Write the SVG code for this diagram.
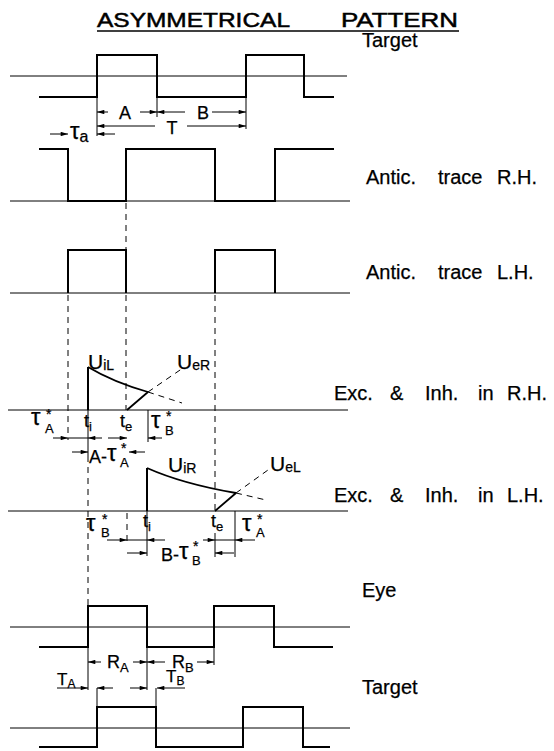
<svg xmlns="http://www.w3.org/2000/svg" width="554" height="751" viewBox="0 0 554 751">
<style>
text{font-family:"Liberation Sans",Arial,sans-serif;fill:#000;stroke:#000;stroke-width:0.25}
.lbl{font-size:20px}
.thin{stroke:#000;stroke-width:1;fill:none}
.wave{stroke:#000;stroke-width:2;fill:none}
.dash{stroke:#000;stroke-width:1;fill:none;stroke-dasharray:6 5}
.ar{stroke:#000;stroke-width:1;fill:none;marker-end:url(#ah)}
.sy{font-size:18px}
.tau{font-size:24px}
.st{font-size:14px}
.sb{font-size:13px}
</style>
<defs>
<marker id="ah" viewBox="0 0 10 6" refX="10" refY="3" markerWidth="8" markerHeight="4.4" markerUnits="userSpaceOnUse" orient="auto"><path d="M0,0 L10,3 L0,6 Z" fill="#000"/></marker>
</defs>
<rect width="554" height="751" fill="#fff"/>

<g id="title">
<text x="97" y="27" font-size="21" textLength="193" lengthAdjust="spacingAndGlyphs" style="stroke-width:0.5">ASYMMETRICAL</text>
<text x="341" y="27" font-size="21" textLength="117" lengthAdjust="spacingAndGlyphs" style="stroke-width:0.5">PATTERN</text>
<line x1="97" y1="31" x2="459" y2="31" stroke="#000" stroke-width="1.5"/>
</g>

<g id="target-top">
<line class="thin" x1="10" y1="76" x2="347" y2="76"/>
<path class="wave" d="M39,97 H97 V55 H157 V97 H246 V55 H304 V97 H334"/>
<text class="lbl" x="362" y="47">Target</text>
</g>

<g id="antic-rh">
<line class="thin" x1="10" y1="201" x2="350" y2="201"/>
<path class="wave" d="M39,149 H68 V201 H126 V149 H215 V201 H275 V149 H334"/>
<text class="lbl" x="366" y="184">Antic.</text>
<text class="lbl" x="438" y="184">trace</text>
<text class="lbl" x="497" y="184">R.H.</text>
</g>

<g id="antic-lh">
<line class="thin" x1="10" y1="293" x2="350" y2="293"/>
<path class="wave" d="M68,293 V250 H126 V293 M215,293 V250 H275 V293"/>
<text class="lbl" x="366" y="279">Antic.</text>
<text class="lbl" x="438" y="279">trace</text>
<text class="lbl" x="497" y="279">L.H.</text>
</g>

<g id="exc-rh">
<line class="thin" x1="8" y1="410" x2="348" y2="410"/>
<path class="wave" d="M88,410 V367"/>
<path stroke="#000" stroke-width="1.8" fill="none" d="M88,367 Q113,382 148,392 M127,410 L148,392"/>
<path class="dash" d="M148,392 L182,403 M148,392 L183,368"/>
<text x="88" y="369" font-size="21">U<tspan font-size="14" dy="1">iL</tspan></text>
<text x="177" y="369" font-size="21">U<tspan font-size="14" dy="1">eR</tspan></text>
<text class="lbl" x="334" y="400">Exc.</text>
<text class="lbl" x="390" y="400">&amp;</text>
<text class="lbl" x="425" y="400">Inh.</text>
<text class="lbl" x="478" y="400">in</text>
<text class="lbl" x="507" y="400">R.H.</text>
</g>

<g id="exc-lh">
<line class="thin" x1="8" y1="511" x2="348" y2="511"/>
<path class="wave" d="M147,511 V468"/>
<path stroke="#000" stroke-width="1.8" fill="none" d="M147,468 Q183,484 236,493 M215,511 L236,493"/>
<path class="dash" d="M236,493 L266,500 M236,493 L268,470"/>
<text x="168" y="472" font-size="21">U<tspan font-size="14" dy="1">iR</tspan></text>
<text x="270" y="471" font-size="21">U<tspan font-size="14" dy="1">eL</tspan></text>
<text class="lbl" x="334" y="502">Exc.</text>
<text class="lbl" x="390" y="502">&amp;</text>
<text class="lbl" x="425" y="502">Inh.</text>
<text class="lbl" x="478" y="502">in</text>
<text class="lbl" x="507" y="502">L.H.</text>
</g>

<g id="eye">
<line class="thin" x1="10" y1="627" x2="350" y2="627"/>
<path class="wave" d="M39,647 H88 V606 H147 V647 H214 V606 H274 V647 H333"/>
<text class="lbl" x="362" y="597">Eye</text>
</g>

<g id="target-bottom">
<line class="thin" x1="10" y1="728" x2="350" y2="728"/>
<path class="wave" d="M39,747 H97 V707 H156 V747 H243 V707 H303 V747 H330"/>
<text class="lbl" x="362" y="694">Target</text>
</g>

<g id="connectors">
<path class="thin" d="M97,97 V136 M157,97 V117 M246,97 V129"/>
<path class="dash" d="M126,203 V249 M126,295 V410 M68,295 V440 M215,295 V511 M88,456 V605 M127,513 V542"/>
<path class="thin" d="M88,410 V456 M148,410 V442 M147,511 V556 M235,511 V557 M215,533 V557"/>
<path class="thin" d="M88,647 V690 M147,647 V690 M214,647 V665 M97,688 V707 M156,688 V707"/>

<path class="ar" d="M108,112 H97"/>
<path class="ar" d="M140,112 H157"/>
<path class="ar" d="M185,112 H157"/>
<path class="ar" d="M212,112 H246"/>
<text class="sy" x="125" y="119" text-anchor="middle">A</text>
<text class="sy" x="203" y="119" text-anchor="middle">B</text>
<path class="ar" d="M155,126 H97"/>
<path class="ar" d="M187,126 H246"/>
<text class="sy" x="172" y="134" text-anchor="middle">T</text>
<path class="ar" d="M50,134 H68"/>
<path class="ar" d="M115,134 H97"/>
<text x="70" y="139" class="tau">τ<tspan font-size="16" dy="3">a</tspan></text>

<text x="31" y="425" class="tau">τ</text><text x="46" y="419" class="st">*</text><text x="45" y="433" class="sb">A</text>
<path class="ar" d="M53,438 H68"/>
<path class="thin" d="M68,438 H88"/>
<path class="ar" d="M102,438 H88"/>
<text x="84" y="427" class="sy">t<tspan font-size="13" dy="4">i</tspan></text>
<text x="120" y="427" class="sy">t<tspan font-size="13" dy="4">e</tspan></text>
<path class="ar" d="M108,438 H127"/>
<path class="ar" d="M162,438 H148"/>
<text x="151" y="428" class="tau">τ</text><text x="166" y="421" class="st">*</text><text x="165" y="435" class="sb">B</text>
<path class="ar" d="M72,452 H88"/>
<path class="ar" d="M145,452 H129"/>
<text x="89" y="463" class="sy">A-</text><text x="107" y="461" class="tau">τ</text><text x="121" y="453" class="st">*</text><text x="120" y="467" class="sb">A</text>

<text x="86" y="531" class="tau">τ</text><text x="102" y="524" class="st">*</text><text x="101" y="537" class="sb">B</text>
<path class="ar" d="M107,540 H127"/>
<path class="thin" d="M127,540 H147"/>
<path class="ar" d="M165,540 H147"/>
<text x="143" y="527" class="sy">t<tspan font-size="13" dy="4">i</tspan></text>
<text x="211" y="527" class="sy">t<tspan font-size="13" dy="4">e</tspan></text>
<path class="ar" d="M203,540 H215"/>
<path class="thin" d="M215,540 H235"/>
<path class="ar" d="M255,540 H235"/>
<text x="242" y="531" class="tau">τ</text><text x="257" y="524" class="st">*</text><text x="256" y="537" class="sb">A</text>
<path class="ar" d="M127,553 H147"/>
<path class="ar" d="M234,553 H215"/>
<text x="161" y="561" class="sy">B-</text><text x="179" y="559" class="tau">τ</text><text x="193" y="551" class="st">*</text><text x="192" y="565" class="sb">B</text>

<path class="ar" d="M101,662 H88"/>
<path class="ar" d="M133,662 H147"/>
<path class="ar" d="M165,662 H147"/>
<path class="ar" d="M197,662 H214"/>
<text x="107" y="668" class="sy">R<tspan font-size="13" dy="4">A</tspan></text>
<text x="172" y="668" class="sy">R<tspan font-size="13" dy="4">B</tspan></text>
<path class="ar" d="M57,688 H88"/>
<path class="ar" d="M113,688 H97"/>
<text x="57" y="685" font-size="17">T<tspan font-size="12" dy="3">A</tspan></text>
<path class="ar" d="M130,688 H147"/>
<path class="ar" d="M185,688 H157"/>
<text x="166" y="682" font-size="17">T<tspan font-size="12" dy="3">B</tspan></text>
</g>
</svg>
